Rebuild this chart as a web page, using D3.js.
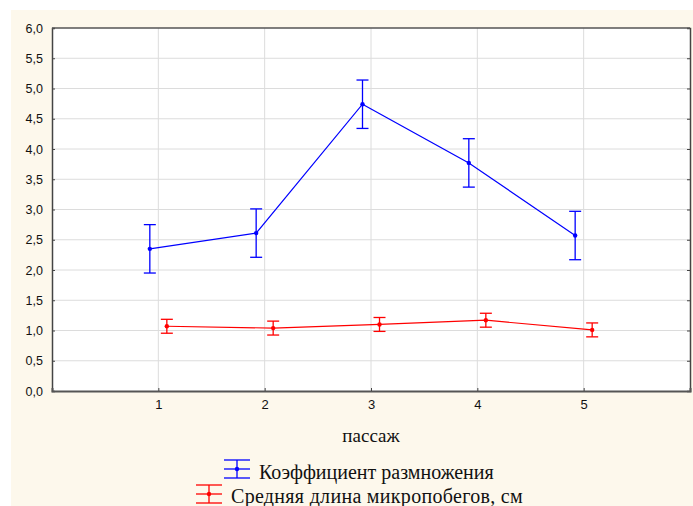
<!DOCTYPE html>
<html>
<head>
<meta charset="utf-8">
<script src="https://cdnjs.cloudflare.com/ajax/libs/d3/7.8.5/d3.min.js"></script>
<style>
  body { margin: 0; background: #fff; }
  svg { display: block; }
</style>
</head>
<body>
<svg width="693" height="506"></svg>
<script>
  var passages = [1, 2, 3, 4, 5];
  var coefMean = [2.35, 2.61, 4.74, 3.77, 2.57];
  var coefErr = [0.40, 0.40, 0.40, 0.40, 0.40];
  var lengthMean = [1.07, 1.04, 1.10, 1.17, 1.01];
  var lengthErr = [0.115, 0.115, 0.115, 0.115, 0.115];
  var yTicks = [0, 0.5, 1, 1.5, 2, 2.5, 3, 3.5, 4, 4.5, 5, 5.5, 6];

  var series = [
    { name: 'Коэффициент размножения', color: '#0000ff', shift: -0.08, mean: coefMean, err: coefErr, spacing: 0 },
    { name: 'Средняя длина микропобегов, см', color: '#ff0000', shift: 0.08, mean: lengthMean, err: lengthErr, spacing: 0.3 }
  ];

  var svg = d3.select('svg');
  var plotL = 52, plotR = 690, plotT = 28, plotB = 391;

  // cream page background
  svg.append('rect')
    .attr('x', 11).attr('y', 10)
    .attr('width', 682).attr('height', 496)
    .attr('fill', '#fdf8ec');

  svg.append('rect')
    .attr('x', plotL).attr('y', plotT)
    .attr('width', plotR - plotL).attr('height', plotB - plotT)
    .attr('fill', '#fff');

  var x = d3.scaleLinear().domain([0, 6]).range([plotL, plotR]);
  var y = d3.scaleLinear().domain([0, 6]).range([plotB, plotT]);

  // grid
  svg.append('g').selectAll('line')
    .data(yTicks.slice(1, -1))
    .enter().append('line')
      .attr('x1', plotL).attr('x2', plotR)
      .attr('y1', function(d) { return y(d); })
      .attr('y2', function(d) { return y(d); })
      .attr('stroke', '#dcdcdc').attr('stroke-width', 1);
  svg.append('g').selectAll('line')
    .data(passages)
    .enter().append('line')
      .attr('y1', plotT).attr('y2', plotB)
      .attr('x1', function(d) { return x(d); })
      .attr('x2', function(d) { return x(d); })
      .attr('stroke', '#dcdcdc').attr('stroke-width', 1);

  // axes
  var yAxis = svg.append('g')
    .attr('transform', 'translate(' + plotL + ',0)')
    .call(d3.axisLeft(y).tickValues(yTicks).tickSize(-3).tickPadding(9)
      .tickFormat(function(d) { return d3.format('.1f')(d).replace('.', ','); }));
  yAxis.select('.domain').attr('stroke', '#444').attr('stroke-width', 1.5);
  yAxis.selectAll('.tick line').attr('stroke', '#444');
  yAxis.selectAll('text').attr('font-family', 'Liberation Sans, Arial, sans-serif')
    .attr('font-size', 12.5).attr('fill', '#111');

  var yRight = svg.append('g')
    .attr('transform', 'translate(' + plotR + ',0)')
    .call(d3.axisRight(y).tickValues(yTicks).tickSize(-3).tickFormat(''));
  yRight.select('.domain').attr('stroke', '#444').attr('stroke-width', 1.5);
  yRight.selectAll('.tick line').attr('stroke', '#444');

  svg.append('line')
    .attr('x1', plotL).attr('x2', plotR)
    .attr('y1', plotT).attr('y2', plotT)
    .attr('stroke', '#555').attr('stroke-width', 1.5);

  var xAxis = svg.append('g')
    .attr('transform', 'translate(0,' + plotB + ')')
    .call(d3.axisBottom(x).tickValues(passages).tickSize(-3).tickPadding(9)
      .tickFormat(d3.format('d')));
  xAxis.select('.domain').attr('stroke', '#555').attr('stroke-width', 2);
  xAxis.selectAll('.tick line').attr('stroke', '#444');
  xAxis.selectAll('text').attr('font-family', 'Liberation Sans, Arial, sans-serif')
    .attr('font-size', 13).attr('fill', '#111');

  svg.append('text')
    .attr('x', 371).attr('y', 442)
    .attr('text-anchor', 'middle')
    .attr('font-family', 'Liberation Serif, Times New Roman, serif')
    .attr('font-size', 19).attr('fill', '#111')
    .text('пассаж');

  // series
  var capW = 6;
  series.forEach(function(s) {
    var pts = passages.map(function(p, i) {
      return { x: p + s.shift, m: s.mean[i], e: s.err[i] };
    });
    var g = svg.append('g');

    g.append('path')
      .datum(pts)
      .attr('fill', 'none')
      .attr('stroke', s.color)
      .attr('stroke-width', 1.2)
      .attr('d', d3.line()
        .x(function(d) { return x(d.x); })
        .y(function(d) { return y(d.m); }));

    var bars = g.selectAll('.err')
      .data(pts)
      .enter().append('g');
    bars.append('line')
      .attr('x1', function(d) { return x(d.x); })
      .attr('x2', function(d) { return x(d.x); })
      .attr('y1', function(d) { return y(d.m + d.e); })
      .attr('y2', function(d) { return y(d.m - d.e); })
      .attr('stroke', s.color).attr('stroke-width', 1.3);
    [1, -1].forEach(function(sign) {
      bars.append('line')
        .attr('x1', function(d) { return x(d.x) - capW; })
        .attr('x2', function(d) { return x(d.x) + capW; })
        .attr('y1', function(d) { return y(d.m + sign * d.e); })
        .attr('y2', function(d) { return y(d.m + sign * d.e); })
        .attr('stroke', s.color).attr('stroke-width', 1.3);
    });
    bars.append('circle')
      .attr('cx', function(d) { return x(d.x); })
      .attr('cy', function(d) { return y(d.m); })
      .attr('r', 2.2)
      .attr('fill', s.color);
  });

  // legend (bottom row is clipped by the page edge, as in the original)
  var legendRows = [
    { sx: 237, sy: 469, tx: 259, ty: 479 },
    { sx: 209, sy: 494, tx: 231, ty: 503 }
  ];
  series.forEach(function(s, i) {
    var r = legendRows[i];
    var g = svg.append('g');
    [-9, 0, 9].forEach(function(dy) {
      g.append('line')
        .attr('x1', r.sx - 13).attr('x2', r.sx + 13)
        .attr('y1', r.sy + dy).attr('y2', r.sy + dy)
        .attr('stroke', s.color).attr('stroke-width', 1.3);
    });
    g.append('line')
      .attr('x1', r.sx).attr('x2', r.sx)
      .attr('y1', r.sy - 9).attr('y2', r.sy + 9)
      .attr('stroke', s.color).attr('stroke-width', 1.3);
    g.append('circle')
      .attr('cx', r.sx).attr('cy', r.sy).attr('r', 2.2)
      .attr('fill', s.color);
    g.append('text')
      .attr('x', r.tx).attr('y', r.ty)
      .attr('font-family', 'Liberation Serif, Times New Roman, serif')
      .attr('font-size', 20).attr('fill', '#111')
      .attr('letter-spacing', s.spacing)
      .text(s.name);
  });
</script>
</body>
</html>
